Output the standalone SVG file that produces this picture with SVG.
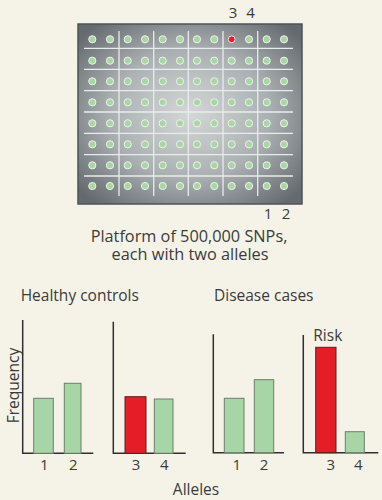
<svg xmlns="http://www.w3.org/2000/svg" width="382" height="500" viewBox="0 0 382 500">
<defs>
<radialGradient id="chip" cx="50%" cy="50%" r="65%">
<stop offset="0" stop-color="#d4d7d7"/>
<stop offset="0.55" stop-color="#aab0b2"/>
<stop offset="1" stop-color="#646a6d"/>
</radialGradient>
<style>
text{font-family:"Open Sans","Liberation Sans",sans-serif;fill:#3b3b3b;}
.lbl{font-size:15.5px;}
.cap{font-size:16.3px;text-anchor:middle;}
.num{font-size:15px;text-anchor:middle;}
.dot{fill:#a9d6a6;stroke:#eef3e8;stroke-width:1;}
.grid{stroke:#e8ecec;stroke-width:1.3;}
.axis{stroke:#2f2f2f;stroke-width:1.5;fill:none;}
.g{fill:#a8d5a5;stroke:#6a7f6a;stroke-width:1;}
.r{fill:#e41d27;stroke:#5a2020;stroke-width:1;}
</style>
</defs>
<rect width="382" height="500" fill="#f5f3e8"/>
<g id="chip-panel">
<rect x="78" y="24" width="224" height="180" fill="url(#chip)" stroke="#4d5356" stroke-width="1.5"/>
<g class="grid">
<line x1="119" y1="31" x2="119" y2="196"/>
<line x1="153.7" y1="31" x2="153.7" y2="196"/>
<line x1="188.3" y1="31" x2="188.3" y2="196"/>
<line x1="223" y1="31" x2="223" y2="196"/>
<line x1="257.7" y1="31" x2="257.7" y2="196"/>
<line x1="84" y1="48.3" x2="293" y2="48.3"/>
<line x1="84" y1="69.3" x2="293" y2="69.3"/>
<line x1="84" y1="90.7" x2="293" y2="90.7"/>
<line x1="84" y1="112" x2="293" y2="112"/>
<line x1="84" y1="133.3" x2="293" y2="133.3"/>
<line x1="84" y1="154.7" x2="293" y2="154.7"/>
<line x1="84" y1="176" x2="293" y2="176"/>
</g>
<g id="dots">
<g id="row1"><circle class="dot" cx="92.3" cy="39.3" r="3.6"/><circle class="dot" cx="110" cy="39.3" r="3.6"/><circle class="dot" cx="127.7" cy="39.3" r="3.6"/><circle class="dot" cx="145" cy="39.3" r="3.6"/><circle class="dot" cx="162.7" cy="39.3" r="3.6"/><circle class="dot" cx="180" cy="39.3" r="3.6"/><circle class="dot" cx="197" cy="39.3" r="3.6"/><circle class="dot" cx="214.3" cy="39.3" r="3.6"/><circle cx="231.7" cy="39.3" r="3.4" fill="#e41d27" stroke="#f3e0e0" stroke-width="1"/><circle class="dot" cx="249" cy="39.3" r="3.6"/><circle class="dot" cx="266.7" cy="39.3" r="3.6"/><circle class="dot" cx="284" cy="39.3" r="3.6"/></g>
<g id="row2"><circle class="dot" cx="92.3" cy="60.7" r="3.6"/><circle class="dot" cx="110" cy="60.7" r="3.6"/><circle class="dot" cx="127.7" cy="60.7" r="3.6"/><circle class="dot" cx="145" cy="60.7" r="3.6"/><circle class="dot" cx="162.7" cy="60.7" r="3.6"/><circle class="dot" cx="180" cy="60.7" r="3.6"/><circle class="dot" cx="197" cy="60.7" r="3.6"/><circle class="dot" cx="214.3" cy="60.7" r="3.6"/><circle class="dot" cx="231.7" cy="60.7" r="3.6"/><circle class="dot" cx="249" cy="60.7" r="3.6"/><circle class="dot" cx="266.7" cy="60.7" r="3.6"/><circle class="dot" cx="284" cy="60.7" r="3.6"/></g>
<g id="row3"><circle class="dot" cx="92.3" cy="81.3" r="3.6"/><circle class="dot" cx="110" cy="81.3" r="3.6"/><circle class="dot" cx="127.7" cy="81.3" r="3.6"/><circle class="dot" cx="145" cy="81.3" r="3.6"/><circle class="dot" cx="162.7" cy="81.3" r="3.6"/><circle class="dot" cx="180" cy="81.3" r="3.6"/><circle class="dot" cx="197" cy="81.3" r="3.6"/><circle class="dot" cx="214.3" cy="81.3" r="3.6"/><circle class="dot" cx="231.7" cy="81.3" r="3.6"/><circle class="dot" cx="249" cy="81.3" r="3.6"/><circle class="dot" cx="266.7" cy="81.3" r="3.6"/><circle class="dot" cx="284" cy="81.3" r="3.6"/></g>
<g id="row4"><circle class="dot" cx="92.3" cy="102.3" r="3.6"/><circle class="dot" cx="110" cy="102.3" r="3.6"/><circle class="dot" cx="127.7" cy="102.3" r="3.6"/><circle class="dot" cx="145" cy="102.3" r="3.6"/><circle class="dot" cx="162.7" cy="102.3" r="3.6"/><circle class="dot" cx="180" cy="102.3" r="3.6"/><circle class="dot" cx="197" cy="102.3" r="3.6"/><circle class="dot" cx="214.3" cy="102.3" r="3.6"/><circle class="dot" cx="231.7" cy="102.3" r="3.6"/><circle class="dot" cx="249" cy="102.3" r="3.6"/><circle class="dot" cx="266.7" cy="102.3" r="3.6"/><circle class="dot" cx="284" cy="102.3" r="3.6"/></g>
<g id="row5"><circle class="dot" cx="92.3" cy="123.3" r="3.6"/><circle class="dot" cx="110" cy="123.3" r="3.6"/><circle class="dot" cx="127.7" cy="123.3" r="3.6"/><circle class="dot" cx="145" cy="123.3" r="3.6"/><circle class="dot" cx="162.7" cy="123.3" r="3.6"/><circle class="dot" cx="180" cy="123.3" r="3.6"/><circle class="dot" cx="197" cy="123.3" r="3.6"/><circle class="dot" cx="214.3" cy="123.3" r="3.6"/><circle class="dot" cx="231.7" cy="123.3" r="3.6"/><circle class="dot" cx="249" cy="123.3" r="3.6"/><circle class="dot" cx="266.7" cy="123.3" r="3.6"/><circle class="dot" cx="284" cy="123.3" r="3.6"/></g>
<g id="row6"><circle class="dot" cx="92.3" cy="144.3" r="3.6"/><circle class="dot" cx="110" cy="144.3" r="3.6"/><circle class="dot" cx="127.7" cy="144.3" r="3.6"/><circle class="dot" cx="145" cy="144.3" r="3.6"/><circle class="dot" cx="162.7" cy="144.3" r="3.6"/><circle class="dot" cx="180" cy="144.3" r="3.6"/><circle class="dot" cx="197" cy="144.3" r="3.6"/><circle class="dot" cx="214.3" cy="144.3" r="3.6"/><circle class="dot" cx="231.7" cy="144.3" r="3.6"/><circle class="dot" cx="249" cy="144.3" r="3.6"/><circle class="dot" cx="266.7" cy="144.3" r="3.6"/><circle class="dot" cx="284" cy="144.3" r="3.6"/></g>
<g id="row7"><circle class="dot" cx="92.3" cy="165.3" r="3.6"/><circle class="dot" cx="110" cy="165.3" r="3.6"/><circle class="dot" cx="127.7" cy="165.3" r="3.6"/><circle class="dot" cx="145" cy="165.3" r="3.6"/><circle class="dot" cx="162.7" cy="165.3" r="3.6"/><circle class="dot" cx="180" cy="165.3" r="3.6"/><circle class="dot" cx="197" cy="165.3" r="3.6"/><circle class="dot" cx="214.3" cy="165.3" r="3.6"/><circle class="dot" cx="231.7" cy="165.3" r="3.6"/><circle class="dot" cx="249" cy="165.3" r="3.6"/><circle class="dot" cx="266.7" cy="165.3" r="3.6"/><circle class="dot" cx="284" cy="165.3" r="3.6"/></g>
<g id="row8"><circle class="dot" cx="92.3" cy="186" r="3.6"/><circle class="dot" cx="110" cy="186" r="3.6"/><circle class="dot" cx="127.7" cy="186" r="3.6"/><circle class="dot" cx="145" cy="186" r="3.6"/><circle class="dot" cx="162.7" cy="186" r="3.6"/><circle class="dot" cx="180" cy="186" r="3.6"/><circle class="dot" cx="197" cy="186" r="3.6"/><circle class="dot" cx="214.3" cy="186" r="3.6"/><circle class="dot" cx="231.7" cy="186" r="3.6"/><circle class="dot" cx="249" cy="186" r="3.6"/><circle class="dot" cx="266.7" cy="186" r="3.6"/><circle class="dot" cx="284" cy="186" r="3.6"/></g>
</g>
<text class="num" x="233" y="18">3</text>
<text class="num" x="250.5" y="18">4</text>
<text class="num" x="268" y="219">1</text>
<text class="num" x="286" y="219">2</text>
<text class="cap" x="189" y="242">Platform of 500,000 SNPs,</text>
<text class="cap" x="190" y="259.5">each with two alleles</text>
</g>
<g id="healthy">
<text class="lbl" x="20.7" y="300.5">Healthy controls</text>
<path class="axis" d="M22.7 320V453.3H93.3"/>
<rect class="g" x="33.7" y="398.3" width="19.6" height="55"/>
<rect class="g" x="64.3" y="383.3" width="16.7" height="70"/>
<text class="num" x="44.3" y="470">1</text>
<text class="num" x="73.3" y="470">2</text>
<path class="axis" d="M113.3 321.7V453.3H185.7"/>
<rect class="r" x="125" y="396.7" width="21" height="56.6"/>
<rect class="g" x="154.3" y="399" width="18.7" height="54.3"/>
<text class="num" x="136" y="470">3</text>
<text class="num" x="164.3" y="470">4</text>
</g>
<g id="disease">
<text class="lbl" x="214" y="300.5">Disease cases</text>
<path class="axis" d="M213.3 334.3V452.7H284"/>
<rect class="g" x="224.3" y="398.3" width="19.7" height="54.4"/>
<rect class="g" x="254.3" y="379.7" width="19.4" height="73"/>
<text class="num" x="236.7" y="470">1</text>
<text class="num" x="264" y="470">2</text>
<path class="axis" d="M303.3 335V452.7H378.3"/>
<rect class="r" x="315.7" y="347.3" width="20.3" height="105.4"/>
<rect class="g" x="345.3" y="431.7" width="19" height="21"/>
<text class="lbl" x="313.3" y="340.5">Risk</text>
<text class="num" x="330.7" y="470">3</text>
<text class="num" x="358.3" y="470">4</text>
</g>
<g id="axis-labels">
<text class="lbl" transform="translate(18.5 385.5) rotate(-90)" text-anchor="middle">Frequency</text>
<text class="lbl" x="196" y="495" text-anchor="middle">Alleles</text>
</g>
</svg>
